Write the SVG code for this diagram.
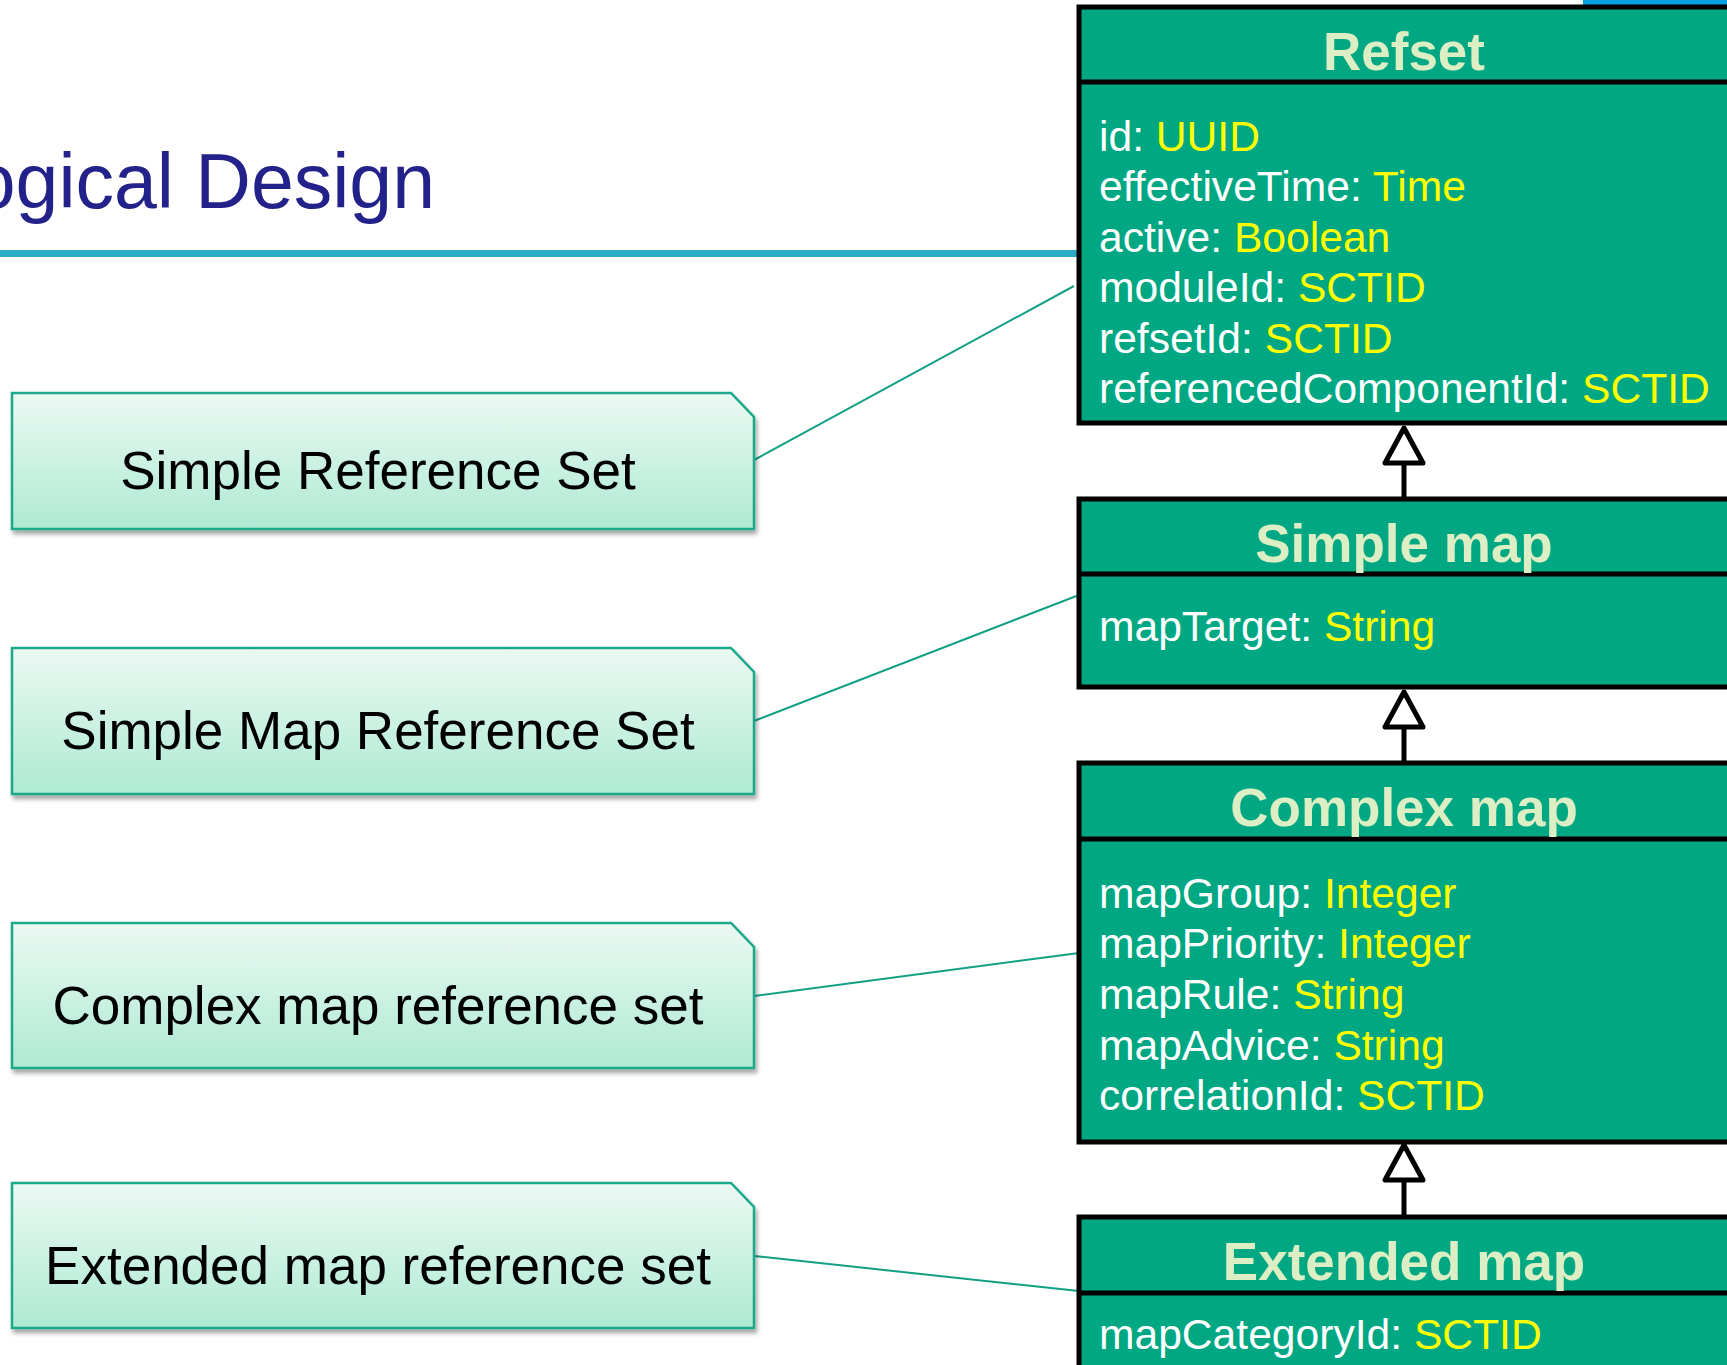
<svg xmlns="http://www.w3.org/2000/svg" width="1727" height="1365" viewBox="0 0 1727 1365">
<defs>
<linearGradient id="noteGrad" x1="0" y1="0" x2="0" y2="1">
<stop offset="0" stop-color="#EBF9F3"/>
<stop offset="1" stop-color="#AEEAD3"/>
</linearGradient>
<filter id="shadow" x="-5%" y="-10%" width="110%" height="130%">
<feDropShadow dx="2" dy="4" stdDeviation="2" flood-color="#000" flood-opacity="0.35"/>
</filter>
<marker id="gen" viewBox="0 0 44 44" refX="40" refY="22" markerWidth="44" markerHeight="44" markerUnits="userSpaceOnUse" orient="auto">
<path d="M40 22 L5 3 L5 41 Z" fill="#fff" stroke="#000" stroke-width="5" stroke-linejoin="round"/>
</marker>
</defs>
<style>
.cls{fill:#00A783;stroke:#000;stroke-width:5}
.div{stroke:#000;stroke-width:5}
.ttl{font-family:"Liberation Sans",Arial,sans-serif;font-weight:bold;font-size:53px;fill:#DCEEC4;text-anchor:middle}
.attr{font-family:"Liberation Sans",Arial,sans-serif;font-size:42.6px;fill:#fff}
.ty{fill:#FFFF00}
.note{fill:url(#noteGrad);stroke:#1AA98A;stroke-width:2.5;filter:url(#shadow)}
.ntxt{font-family:"Liberation Sans",Arial,sans-serif;font-size:53px;fill:#000;text-anchor:middle}
.conn{stroke:#12A084;stroke-width:2;fill:none}
.inh{stroke:#000;stroke-width:5;fill:none}
</style>
<rect x="1583" y="0" width="144" height="5" fill="#009FE3"/>
<g id="title">
<text x="435" y="208" font-family="'Liberation Sans',Arial,sans-serif" font-size="77" fill="#23228A" text-anchor="end">ogical Design</text>
<rect x="0" y="250" width="1079" height="7" fill="#2AACC8"/>
</g>
<g id="connectors">
<line class="conn" x1="754" y1="460" x2="1074" y2="286"/>
<line class="conn" x1="754" y1="721" x2="1079" y2="595"/>
<line class="conn" x1="754" y1="996" x2="1079" y2="953"/>
<line class="conn" x1="754" y1="1256" x2="1079" y2="1291"/>
<line class="inh" x1="1404" y1="499" x2="1404" y2="428" marker-end="url(#gen)"/>
<line class="inh" x1="1404" y1="763" x2="1404" y2="692" marker-end="url(#gen)"/>
<line class="inh" x1="1404" y1="1217" x2="1404" y2="1145" marker-end="url(#gen)"/>
</g>
<g id="refset">
<rect class="cls" x="1079" y="7" width="700" height="416"/>
<line class="div" x1="1079" y1="82" x2="1780" y2="82"/>
<text class="ttl" x="1404" y="70">Refset</text>
<text class="attr" x="1099" y="151">id: <tspan class="ty">UUID</tspan></text>
<text class="attr" x="1099" y="201">effectiveTime: <tspan class="ty">Time</tspan></text>
<text class="attr" x="1099" y="252">active: <tspan class="ty">Boolean</tspan></text>
<text class="attr" x="1099" y="302">moduleId: <tspan class="ty">SCTID</tspan></text>
<text class="attr" x="1099" y="353">refsetId: <tspan class="ty">SCTID</tspan></text>
<text class="attr" x="1099" y="403">referencedComponentId: <tspan class="ty">SCTID</tspan></text>
</g>
<g id="simple-map">
<rect class="cls" x="1079" y="499" width="700" height="188"/>
<line class="div" x1="1079" y1="574" x2="1780" y2="574"/>
<text class="ttl" x="1404" y="562">Simple map</text>
<text class="attr" x="1099" y="641">mapTarget: <tspan class="ty">String</tspan></text>
</g>
<g id="complex-map">
<rect class="cls" x="1079" y="763" width="700" height="379"/>
<line class="div" x1="1079" y1="839" x2="1780" y2="839"/>
<text class="ttl" x="1404" y="826">Complex map</text>
<text class="attr" x="1099" y="908">mapGroup: <tspan class="ty">Integer</tspan></text>
<text class="attr" x="1099" y="958">mapPriority: <tspan class="ty">Integer</tspan></text>
<text class="attr" x="1099" y="1009">mapRule: <tspan class="ty">String</tspan></text>
<text class="attr" x="1099" y="1060">mapAdvice: <tspan class="ty">String</tspan></text>
<text class="attr" x="1099" y="1110">correlationId: <tspan class="ty">SCTID</tspan></text>
</g>
<g id="extended-map">
<rect class="cls" x="1079" y="1217" width="700" height="200"/>
<line class="div" x1="1079" y1="1293" x2="1780" y2="1293"/>
<text class="ttl" x="1404" y="1280">Extended map</text>
<text class="attr" x="1099" y="1349">mapCategoryId: <tspan class="ty">SCTID</tspan></text>
</g>
<g id="note-simple-refset">
<polygon class="note" points="12,393 731,393 754,417 754,529 12,529"/>
<text class="ntxt" x="378" y="489">Simple Reference Set</text>
</g>
<g id="note-simple-map">
<polygon class="note" points="12,648 731,648 754,672 754,794 12,794"/>
<text class="ntxt" x="378" y="749">Simple Map Reference Set</text>
</g>
<g id="note-complex-map">
<polygon class="note" points="12,923 731,923 754,947 754,1068 12,1068"/>
<text class="ntxt" x="378" y="1024">Complex map reference set</text>
</g>
<g id="note-extended-map">
<polygon class="note" points="12,1183 731,1183 754,1207 754,1328 12,1328"/>
<text class="ntxt" x="378" y="1284">Extended map reference set</text>
</g>
</svg>
